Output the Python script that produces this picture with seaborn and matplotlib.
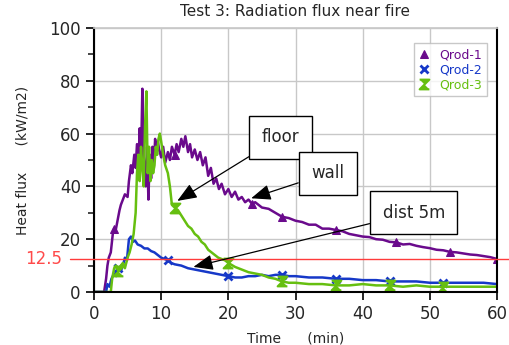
import matplotlib
matplotlib.use("Agg")
import matplotlib.pyplot as plt
from matplotlib.path import Path
import seaborn as sns
import numpy as np

# ---------------- data ----------------
t1 = [0, 1.5, 1.8, 2.0, 2.2, 2.5, 2.8, 3.0, 3.2, 3.5, 3.8, 4.0, 4.3, 4.6, 5.0, 5.2, 5.5, 5.7,
      6.0, 6.2, 6.4, 6.6, 6.8, 7.0, 7.2, 7.3, 7.5, 7.7, 7.9, 8.1, 8.3, 8.5, 8.7, 8.9, 9.1, 9.3,
      9.5, 9.7, 10.0, 10.3, 10.6, 11.0, 11.3, 11.6, 12.0, 12.3, 12.6, 13.0, 13.3, 13.6, 14.0,
      14.3, 14.6, 15.0, 15.4, 15.8, 16.2, 16.6, 17.0, 17.4, 17.8, 18.2, 18.6, 19.0, 19.5, 20.0,
      20.5, 21.0, 21.5, 22.0, 22.5, 23.0, 23.5, 24.0, 25, 26, 27, 28, 29, 30, 31, 32, 33, 34,
      35, 36, 37, 38, 39, 40, 41, 42, 43, 44, 45, 46, 47, 48, 49, 50, 51, 52, 53, 54, 55, 56,
      57, 58, 59, 60]
q1 = [0, 0, 5, 10, 13, 15, 22, 24, 23, 27, 31, 33, 35, 37, 36, 42, 48, 45,
      52, 47, 56, 46, 62, 50, 77, 55, 48, 40, 55, 35, 52, 43, 55, 47, 58, 52,
      57, 54, 51, 55, 49, 53, 50, 55, 52, 56, 53, 58, 55, 59, 53,
      56, 51, 54, 50, 53, 48, 51, 44, 47, 41, 43, 39, 41, 37, 39,
      36, 38, 35, 36, 34, 35, 33.5, 34, 32, 31.5, 30, 28.5, 28, 27, 26.5, 25.5, 25.5, 24,
      24, 23.5, 23, 22, 21.5, 21, 20.8, 20, 19.8, 19, 18.8, 18, 18.2, 17.5, 17, 16.6, 16, 15.8, 15.2, 15, 14.6, 14.2,
      14, 13.6, 13.2, 12.5]

t2 = [0, 1.8, 2.0, 2.3, 2.6, 3.0, 3.3, 3.6, 4.0, 4.3, 4.6, 4.9, 5.2, 5.5, 5.8, 6.1, 6.5,
      7, 7.5, 8, 8.5, 9, 9.5, 10, 10.5, 11, 11.5, 12, 13, 14, 15, 16, 17, 18, 19, 20, 21,
      22, 23, 24, 25, 26, 27, 28, 29, 30, 32, 34, 36, 38, 40, 42, 44, 46, 48, 50, 52, 54,
      56, 58, 60]
q2 = [0, 0, 3, 2, 5, 7, 6, 9, 8, 10, 13, 12, 20, 21, 19, 19.5, 18,
      17.5, 16.5, 16.5, 15.5, 15, 14, 13, 12.5, 12, 11, 10.5, 10, 9, 8.5, 8, 7.5, 7, 6.5, 6, 5.5,
      5.5, 6, 6, 6.5, 6, 6.5, 6.5, 6, 6, 5.5, 5.5, 5, 5, 4.5, 4.5, 4, 4, 4, 3.5, 3.5, 3.5,
      3.5, 3.5, 3]

t3 = [0, 2.5, 2.7, 3.0, 3.3, 3.6, 4.0, 4.3, 4.6, 5.0, 5.3, 5.6, 5.9, 6.2, 6.4, 6.6, 6.8,
      7.0, 7.2, 7.4, 7.6, 7.8, 7.9, 8.0, 8.2, 8.4, 8.6, 8.8, 9.0, 9.2, 9.4, 9.6, 9.8, 10.0,
      10.3, 10.6, 11.0, 11.3, 11.6, 12.0, 12.5, 13, 13.5, 14, 14.5, 15, 15.5, 16, 16.5, 17,
      17.5, 18, 18.5, 19, 19.5, 20, 21, 22, 23, 24, 25, 26, 27, 28, 29, 30, 32, 34, 36, 38,
      40, 42, 44, 46, 48, 50, 52, 54, 56, 58, 60]
q3 = [0, 0, 5, 9, 10, 8, 10, 11, 9, 13, 15, 18, 22, 30, 45, 52, 42,
      55, 47, 40, 63, 76, 60, 45, 55, 42, 50, 45, 48, 55, 52, 58, 60, 57,
      52, 48, 45, 40, 33, 32, 31, 29, 27, 25, 24, 22, 21, 19, 18, 16,
      15, 14, 13, 12.5, 12, 11, 9.5, 8.5, 7.5, 7, 6.5, 5.5, 5, 4, 3.5, 3.5, 3, 3, 2.5, 2.5,
      3, 2.5, 2.5, 2, 2.5, 2, 2, 2, 2, 2, 2]

series_names = ["Qrod-1", "Qrod-2", "Qrod-3"]
marks1 = [3.0, 12.0, 23.5, 28, 36, 45, 53, 60]
marks2 = [3.6, 11, 20, 28, 36, 44, 52]
marks3 = [3.6, 12.0, 20, 28, 36, 44, 52]
threshold = 12.5
x_ticks = [0, 10, 20, 30, 40, 50, 60]
y_ticks = [0, 20, 40, 60, 80, 100]

# ---------------- style ----------------
sns.set_theme(style="white")
plt.rcParams['font.family'] = ['DejaVu Sans']

c1, c2, c3 = "#6a0a8c", "#1638c8", "#66bf10"

fig = plt.figure(figsize=(5.09, 3.45), dpi=100)
ax = fig.add_axes([94/509, 1-292/345, 403/509, 264/345])

def idx(ts, marks):
    return [i for i, t in enumerate(ts) if t in marks]

zmark = Path([(-1, 1), (1, 1), (-1, -1), (1, -1)],
             [Path.MOVETO, Path.LINETO, Path.LINETO, Path.LINETO])

sns.lineplot(x=t1, y=q1, ax=ax, color=c1, lw=1.8, estimator=None, sort=False,
             marker="^", markersize=6, mec=c1, mfc=c1, markevery=idx(t1, marks1),
             label=series_names[0])
sns.lineplot(x=t2, y=q2, ax=ax, color=c2, lw=1.8, estimator=None, sort=False,
             marker="x", markersize=6, mew=2, mec=c2, markevery=idx(t2, marks2),
             label=series_names[1])
sns.lineplot(x=t3, y=q3, ax=ax, color=c3, lw=1.8, estimator=None, sort=False,
             marker=zmark, markersize=7, mew=1.5, mec=c3, mfc=c3, markevery=idx(t3, marks3),
             label=series_names[2])

ax.set_xlim(0, 60)
ax.set_ylim(0, 100)
ax.set_xticks(x_ticks)
ax.set_yticks(y_ticks)
ax.set_yticks([10, 30, 50, 70, 90], minor=True)
ax.grid(True, which="major", color="#c8c8c8", lw=1)
ax.tick_params(axis="both", which="major", direction="out", length=6, width=1.2,
               labelsize=12, color="black", left=True, bottom=True)
ax.tick_params(axis="y", which="minor", direction="out", length=4, width=1.2, left=True)
for s in ["left", "bottom", "right"]:
    ax.spines[s].set_color("black")
    ax.spines[s].set_linewidth(1.5)
ax.spines["top"].set_color("#c8c8c8")

ax.set_title("Test 3: Radiation flux near fire", fontsize=11, pad=9)
ax.set_xlabel("Time      (min)", fontsize=10, labelpad=6)
ax.set_ylabel("Heat flux      (kW/m2)", fontsize=10, labelpad=14)

# threshold line
ax.axhline(threshold, xmin=-0.06, xmax=1.04, color="#ff3b3b", lw=1.0, clip_on=False, zorder=5)
ax.text(-0.08, threshold, "12.5", color="#ff4a4a", fontsize=12, va="center", ha="right",
        transform=ax.get_yaxis_transform())

leg = ax.legend(loc="upper right", bbox_to_anchor=(0.99, 0.965), frameon=True, fontsize=9,
                handlelength=0.8, handletextpad=0.8, labelspacing=0.15, borderpad=0.4,
                fancybox=False)
leg.get_frame().set_edgecolor("#bbbbbb")
for txt, c in zip(leg.get_texts(), [c1, c2, c3]):
    txt.set_color(c)
for h in leg.get_lines():
    h.set_linestyle("none")

bbox = dict(boxstyle="square,pad=0.75", fc="white", ec="black", lw=1)
arrow = dict(arrowstyle="-|>,head_length=1.0,head_width=0.4", color="black", lw=0.9,
             shrinkA=0, shrinkB=0)
ax.annotate("floor", xy=(12.4, 34.5), xytext=(27.8, 58.7), fontsize=12, ha="center",
            va="center", bbox=bbox, arrowprops=arrow, zorder=10)
ax.annotate("wall", xy=(23.4, 35.5), xytext=(34.8, 45.0), fontsize=12, ha="center",
            va="center", bbox=bbox, arrowprops=arrow, zorder=10)
ax.annotate("dist 5m", xy=(14.8, 9.5), xytext=(47.6, 30.0), fontsize=12, ha="center",
            va="center", bbox=bbox, arrowprops=arrow, zorder=10)

fig.savefig("out.png", dpi=100)
